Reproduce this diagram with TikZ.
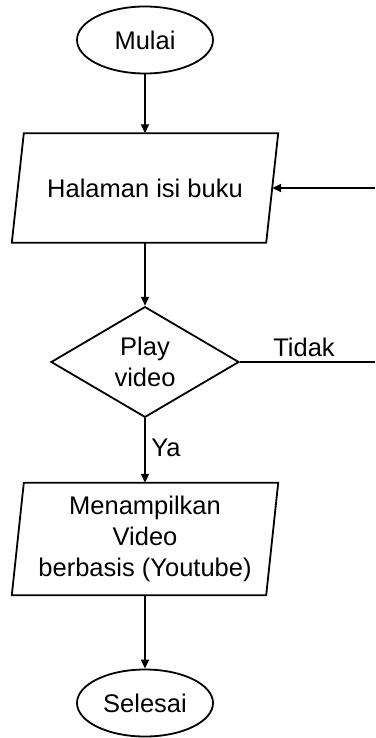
\documentclass[tikz,border=0pt]{standalone}
\usepackage{fontspec}
\setmainfont{Liberation Sans}
\usetikzlibrary{shapes.geometric,arrows.meta}

\tikzset{
  txt/.style={inner sep=0pt, align=center, font=\fontsize{25.5}{31}\selectfont},
  base/.style={txt, draw, line width=1.8pt},
  terminal/.style={base, ellipse, minimum width=136pt, minimum height=67pt},
  iobody/.style={txt, minimum width=254pt},
  decision/.style={base, diamond, minimum width=188pt, minimum height=107pt},
  flow/.style={line width=1.8pt, -{Triangle[length=9pt,width=8pt]}},
  plain/.style={line width=1.8pt},
  outline/.style={line width=1.8pt, line join=miter}
}

% slanted outline around an input/output node
\newcommand{\ioframe}[1]{%
  \draw[outline] ([xshift=6pt]#1.north west) -- ([xshift=6pt]#1.north east)
    -- ([xshift=-6pt]#1.south east) -- ([xshift=-6pt]#1.south west) -- cycle;}

\begin{document}
\begin{tikzpicture}[x=1pt, y=-1pt]
  \useasboundingbox (0,0) rectangle (375,738);

  \node[terminal] (start) at (145,40) {Mulai};
  \node[iobody, minimum height=109pt] (page) at (145,188) {Halaman isi buku};
  \ioframe{page}
  \node[decision] (dec) at (145,362) {Play\\video};
  \node[iobody, minimum height=112pt] (show) at (145,539)
    {Menampilkan\\Video\\berbasis (Youtube)};
  \ioframe{show}
  \node[terminal] (stop) at (145,703) {Selesai};

  \coordinate (loopin) at (375,188);
  \coordinate (loopout) at (375,362);

  \draw[flow] (start) -- (page);
  \draw[flow] (page) -- (dec);
  \draw[flow] (dec) -- (show);
  \draw[flow] (show) -- (stop);
  \draw[plain] (dec.east) -- (loopout);
  \draw[flow] (loopin) -- (page.east |- loopin);

  \node[txt] (no) at (304,347) {Tidak};
  \node[txt] (yes) at (166,448) {Ya};
\end{tikzpicture}
\end{document}
